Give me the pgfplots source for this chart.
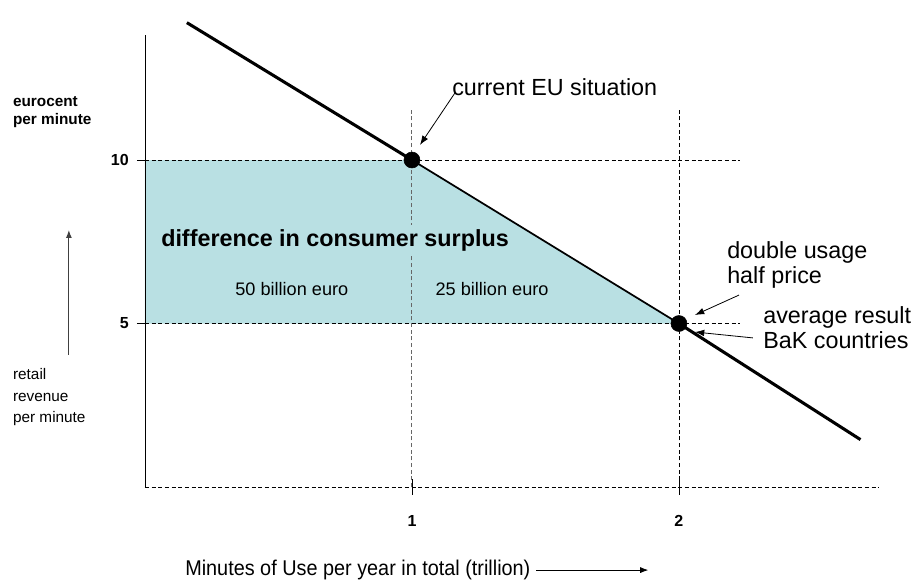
\documentclass[border=0pt]{standalone}
\usepackage{fontspec}
\setmainfont{Liberation Sans}
\newfontfamily\narrowfont[FakeStretch=0.93]{Liberation Sans}
\usepackage{pgfplots}
\pgfplotsset{compat=1.18}
\usetikzlibrary{arrows.meta}
\definecolor{surplus}{RGB}{185,224,227}
\begin{document}
\begin{tikzpicture}
\begin{axis}[hide axis, scale only axis, width=687pt, height=434.25pt,
  xmin=-0.543, xmax=2.888, ymin=-2.813, ymax=14.893, clip=false]
% consumer surplus area
\addplot[fill=surplus, draw=none] coordinates {(0,5) (0,10) (1,10) (2,5)} -- cycle;
% left axis
\addplot[black, line width=0.7pt] coordinates {(0,0) (0,13.82)};
% dashed guides
\addplot[black, line width=0.6pt, dash pattern=on 3pt off 2pt] coordinates {(0,0) (2.75,0)};
\addplot[black, line width=0.6pt, dash pattern=on 3pt off 2pt] coordinates {(0,10) (2.23,10)};
\addplot[black, line width=0.6pt, dash pattern=on 3pt off 2pt] coordinates {(0,5) (2.23,5)};
\addplot[black!60, line width=0.7pt, dash pattern=on 3pt off 2pt] coordinates {(1,0) (1,11.6)};
\addplot[black, line width=0.6pt, dash pattern=on 3pt off 2pt] coordinates {(2,0) (2,11.6)};
% ticks
\addplot[black, line width=0.6pt] coordinates {(1,-0.24) (1,0.24)};
\addplot[black, line width=0.6pt] coordinates {(2,-0.24) (2,0.24)};
\addplot[black, line width=0.6pt] coordinates {(-0.03,10) (0,10)};
\addplot[black, line width=0.6pt] coordinates {(-0.03,5) (0,5)};
% labels inside area
\node[anchor=west, font=\bfseries\fontsize{17.5}{21}\selectfont, fill=surplus, inner xsep=0pt, inner ysep=3pt] at (axis cs:0.06,7.55) {difference in consumer surplus};
\node[inner sep=0pt, font=\fontsize{13.6}{16}\selectfont] at (axis cs:0.55,6.06) {50 billion euro};
\node[inner sep=0pt, font=\fontsize{13.6}{16}\selectfont] at (axis cs:1.30,6.06) {25 billion euro};
% demand line
\addplot[black, line width=2.3pt] coordinates {(0.157,14.2) (1,10)};
\addplot[black, line width=1.3pt] coordinates {(1,10) (2,5)};
\addplot[black, line width=2.3pt] coordinates {(2,5) (2.68,1.45)};
\addplot[only marks, mark=*, mark size=6pt, black] coordinates {(1,10) (2,5)};
% tick labels
\node[anchor=east, inner sep=0pt, font=\bfseries\fontsize{12}{14}\selectfont] at (axis cs:-0.06,10) {10};
\node[anchor=east, inner sep=0pt, font=\bfseries\fontsize{12}{14}\selectfont] at (axis cs:-0.06,5) {5};
\node[inner sep=0pt, font=\bfseries\fontsize{12}{14}\selectfont] at (axis cs:1,-1.04) {1};
\node[inner sep=0pt, font=\bfseries\fontsize{12}{14}\selectfont] at (axis cs:2,-1.04) {2};
% y axis labels
\node[anchor=west, align=left, inner sep=0pt, font=\bfseries\fontsize{11.5}{13.5}\selectfont] at (axis cs:-0.495,11.47) {eurocent\\per minute};
\draw[-{Latex[length=6pt,width=4.5pt]}, black!75, line width=0.8pt] (axis cs:-0.285,4.04) -- (axis cs:-0.285,7.86);
\node[anchor=west, align=left, inner sep=0pt, font=\fontsize{11.5}{16}\selectfont] at (axis cs:-0.495,2.75) {retail\\revenue\\per minute};
% annotations
\node[anchor=west, inner sep=0pt, font=\fontsize{17.5}{21}\selectfont] at (axis cs:1.15,12.23) {current EU situation};
\draw[-{Latex[length=7pt,width=5pt]}, line width=0.6pt] (axis cs:1.161,12.05) -- (axis cs:1.03,10.46);
\node[anchor=west, align=left, inner sep=0pt, font=\fontsize{17.5}{19}\selectfont] at (axis cs:2.18,6.80) {double usage\\half price};
\node[anchor=west, align=left, inner sep=0pt, font=\fontsize{17.5}{19}\selectfont] at (axis cs:2.315,4.88) {average result\\BaK countries};
\draw[-{Latex[length=7pt,width=5pt]}, line width=0.6pt] (axis cs:2.225,5.87) -- (axis cs:2.06,5.26);
\draw[-{Latex[length=7pt,width=5pt]}, line width=0.6pt] (axis cs:2.277,4.56) -- (axis cs:2.06,4.74);
% x axis title
\node[anchor=west, inner sep=0pt, font=\narrowfont\fontsize{16}{19}\selectfont] at (axis cs:0.15,-2.54) {Minutes of Use per year in total (trillion)};
\draw[-{Latex[length=6pt,width=4.5pt]}, line width=0.6pt] (axis cs:1.465,-2.54) -- (axis cs:1.885,-2.54);
\end{axis}
\pgfresetboundingbox
\path (current axis.south west) rectangle (current axis.north east);
\end{tikzpicture}
\end{document}
